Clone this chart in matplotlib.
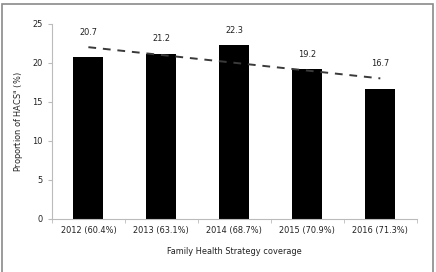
import numpy as np
import matplotlib.pyplot as plt
from matplotlib.patches import Rectangle

categories = ["2012 (60.4%)", "2013 (63.1%)", "2014 (68.7%)", "2015 (70.9%)", "2016 (71.3%)"]
values = [20.7, 21.2, 22.3, 19.2, 16.7]
labels = ["20.7", "21.2", "22.3", "19.2", "16.7"]

plt.rcParams['font.family'] = ['DejaVu Sans']
plt.rcParams['font.stretch'] = 'condensed'
fs = 6.6

x = np.arange(len(values))
y = np.array(values)

# linear trend
k, b = np.polyfit(x, y, 1)
trend = k * x + b

fig = plt.figure(figsize=(4.36, 2.72), dpi=100)
ax = fig.add_axes([0.119, 0.195, 0.837, 0.717])

ax.bar(x, y, width=0.41, color="black", zorder=2)
ax.plot(x, trend, linestyle=(0, (4, 3.5)), color="#3a3a3a", linewidth=1.4, zorder=3)

for i in range(len(values)):
    top = max(values[i], trend[i])
    ax.text(x[i], top + 1.3, labels[i], ha="center", va="bottom", fontsize=fs, color="#222222")

ax.set_xlim(-0.5, len(values) - 0.5)
ax.set_ylim(0, 25)
ax.set_yticks([0, 5, 10, 15, 20, 25])
ax.set_xticks(x)
ax.set_xticklabels(categories)
ax.set_xticks(np.arange(-0.5, len(values), 1), minor=True)
ax.tick_params(axis="x", which="major", length=0, labelsize=fs, pad=5, colors="#222222")
ax.tick_params(axis="x", which="minor", length=3, color="#bbbbbb")
ax.tick_params(axis="y", length=3, color="#bbbbbb", labelsize=fs, labelcolor="#222222")

for s in ["top", "right"]:
    ax.spines[s].set_visible(False)
for s in ["left", "bottom"]:
    ax.spines[s].set_color("#bbbbbb")
    ax.spines[s].set_linewidth(0.8)

ax.set_ylabel("Proportion of HACS$^{\\mathrm{a}}$ (%)", fontsize=fs, color="#222222", labelpad=5)
ax.set_xlabel("Family Health Strategy coverage", fontsize=fs, color="#222222", labelpad=9)

# frame around the figure
fig.patches.append(Rectangle((0.005, -0.01), 0.988, 0.995, transform=fig.transFigure,
                             fill=False, edgecolor="#8a8a8a", linewidth=1.2))

fig.savefig("out.png", dpi=100)
